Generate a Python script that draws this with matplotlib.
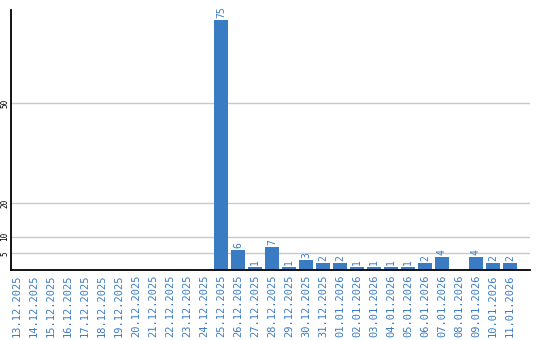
import numpy as np
import matplotlib.pyplot as plt

# Data
dates = ['13.12.2025', '14.12.2025', '15.12.2025', '16.12.2025', '17.12.2025',
         '18.12.2025', '19.12.2025', '20.12.2025', '21.12.2025', '22.12.2025',
         '23.12.2025', '24.12.2025', '25.12.2025', '26.12.2025', '27.12.2025',
         '28.12.2025', '29.12.2025', '30.12.2025', '31.12.2025', '01.01.2026',
         '02.01.2026', '03.01.2026', '04.01.2026', '05.01.2026', '06.01.2026',
         '07.01.2026', '08.01.2026', '09.01.2026', '10.01.2026', '11.01.2026']
counts = [0, 0, 0, 0, 0, 0, 0, 0, 0, 0, 0, 0, 75, 6, 1, 7, 1, 3, 2, 2,
          1, 1, 1, 1, 2, 4, 0, 4, 2, 2]
yticks = [5, 10, 20, 50]

blue = '#3a7cc4'

fig = plt.figure(figsize=(5.4, 3.4), dpi=100)
ax = fig.add_axes([11 / 540, 0.206, 519 / 540, 0.764])

x = np.arange(len(dates))
ax.bar(x, counts, width=0.82, color=blue, zorder=3)

for xi, v in zip(x, counts):
    if v > 0:
        ax.text(xi, v + 0.6, str(v), rotation=90, ha='center', va='bottom',
                color=blue, fontsize=7, family='DejaVu Sans Mono')

ax.set_xlim(-0.35, 30.18)
ax.set_ylim(0, 78)
ax.set_yticks(yticks)
ax.set_yticklabels([str(t) for t in yticks], rotation=90, va='center',
                   fontsize=5.5, family='DejaVu Sans Mono')
ax.set_xticks(x)
ax.set_xticklabels(dates, rotation=90, color=blue, fontsize=7.5,
                   family='DejaVu Sans Mono')
ax.tick_params(axis='x', length=0, pad=3)
ax.tick_params(axis='y', length=0, pad=1)
ax.grid(axis='y', color='#c8c8c8', linewidth=1, zorder=0)

for s in ['top', 'right']:
    ax.spines[s].set_visible(False)
for s in ['left', 'bottom']:
    ax.spines[s].set_linewidth(1.3)
    ax.spines[s].set_zorder(4)

fig.savefig('out.png', dpi=100)
